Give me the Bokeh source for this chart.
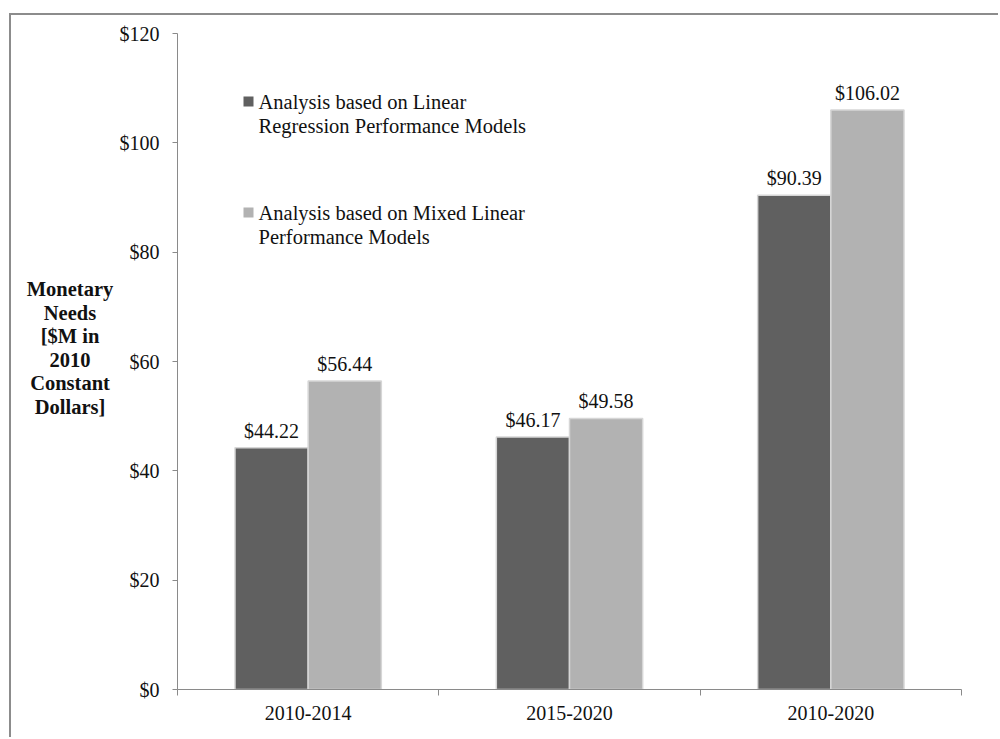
import numpy as np
from bokeh.plotting import figure
from bokeh.layouts import row
from bokeh.models import (Range1d, FixedTicker, Label, ColumnDataSource, Div)
from bokeh.core.properties import value
from bokeh.embed import file_html
from bokeh.resources import INLINE

# ---- data ----
categories = ["2010-2014", "2015-2020", "2010-2020"]
linear_regression = [44.22, 46.17, 90.39]
mixed_linear = [56.44, 49.58, 106.02]
y_ticks = [0, 20, 40, 60, 80, 100, 120]
series_names = ["Analysis based on Linear\nRegression Performance Models",
                "Analysis based on Mixed Linear\nPerformance Models"]
y_title_lines = ["Monetary", "Needs", "[$M in", "2010", "Constant", "Dollars]"]

FONT = "Liberation Serif"
DARK = "#606060"
LIGHT = "#b2b2b2"
AXIS = "#8a8a8a"

# page geometry (window pixels)
OX, OY = 11, 15                       # content origin (after css border)
W, H = 1000 - OX, 739 - OY
FL, FR, FT, FB = 177, 961, 33, 689     # frame edges in window px
DW = 104                               # width of the y-title column

n = len(categories)
YMAX = 120

def px_x(px):
    return (px - FL) / (FR - FL) * n

def px_y(py):
    return (FB - py) / (FB - FT) * YMAX

PW = W - DW - 2
PH = H - 2
p = figure(width=PW, height=PH, output_backend="svg", toolbar_location=None,
           x_range=Range1d(0, n), y_range=Range1d(0, YMAX),
           min_border_left=FL - OX - DW, min_border_right=OX + DW + PW - FR,
           min_border_top=FT - OY, min_border_bottom=OY + PH - FB, margin=0)
p.outline_line_color = None
p.grid.visible = False
p.background_fill_color = "white"
p.border_fill_color = "white"

centers = np.arange(n) + 0.5
bw = 0.28
dark_x = centers - bw / 2
light_x = centers + bw / 2

src = ColumnDataSource(dict(dx=dark_x, lx=light_x, d=linear_regression, m=mixed_linear,
                            dl=["$%.2f" % v for v in linear_regression],
                            ml=["$%.2f" % v for v in mixed_linear]))

p.vbar(x="dx", top="d", width=bw, source=src, fill_color=DARK, line_color="#d6d6d6", line_width=1.5)
p.vbar(x="lx", top="m", width=bw, source=src, fill_color=LIGHT, line_color="#d6d6d6", line_width=1.5)

for xcol, lcol, ycol in [("dx", "dl", "d"), ("lx", "ml", "m")]:
    p.text(x=xcol, y=ycol, text=lcol, source=src, text_align="center", text_baseline="middle",
           y_offset=-17, text_font=value(FONT), text_font_size="20px", text_color="#111111")

# axes
xa = p.xaxis[0]
xa.ticker = FixedTicker(ticks=list(centers), minor_ticks=list(range(n + 1)))
xa.major_label_overrides = {float(c): cat for c, cat in zip(centers, categories)}
xa.major_tick_out = 0
xa.major_tick_in = 0
xa.minor_tick_out = 6
xa.minor_tick_in = 0
xa.axis_line_color = AXIS
xa.minor_tick_line_color = AXIS
xa.major_label_text_font = FONT
xa.major_label_text_font_size = "20px"
xa.major_label_text_color = "#111111"
xa.major_label_standoff = 10

ya = p.yaxis[0]
ya.ticker = FixedTicker(ticks=y_ticks)
ya.major_label_overrides = {t: "$%d" % t for t in y_ticks}
ya.major_tick_out = 5
ya.major_tick_in = 0
ya.minor_tick_line_color = None
ya.axis_line_color = AXIS
ya.major_tick_line_color = AXIS
ya.major_label_text_font = FONT
ya.major_label_text_font_size = "20px"
ya.major_label_text_color = "#111111"
ya.major_label_standoff = 13

# legend
leg_y = [101, 212]
for name, col, ly in zip(series_names, [DARK, LIGHT], leg_y):
    p.scatter(x=[px_x(248)], y=[px_y(ly)], marker="square", size=10, fill_color=col, line_color=None)
    for j, line in enumerate(name.split("\n")):
        p.add_layout(Label(x=px_x(258), y=px_y(ly + j * 24), text=line, text_align="left",
                           text_baseline="middle", text_font=FONT, text_font_size="20.5px",
                           text_color="#111111"))

# y title (horizontal, multi-line, bold, centred lines)
title_html = ("<div style=\"width:118px; text-align:center; font-family:'%s'; font-size:20.5px; "
              "font-weight:bold; line-height:23.6px; color:#111111; padding-top:263px; "
              "white-space:nowrap;\">%s</div>") % (FONT, "<br>".join(y_title_lines))
ytitle = Div(text=title_html, width=DW, height=PH, margin=0,
             styles={"overflow": "visible"})

layout = row(ytitle, p, width=W, height=H, spacing=0,
             margin=(OY - 2, 0, 0, OX - 2),
             styles={"border-left": "2px solid #8c8c8c", "border-top": "2px solid #8c8c8c",
                     "background": "white"})

open("out.html", "w").write(file_html(layout, INLINE))
